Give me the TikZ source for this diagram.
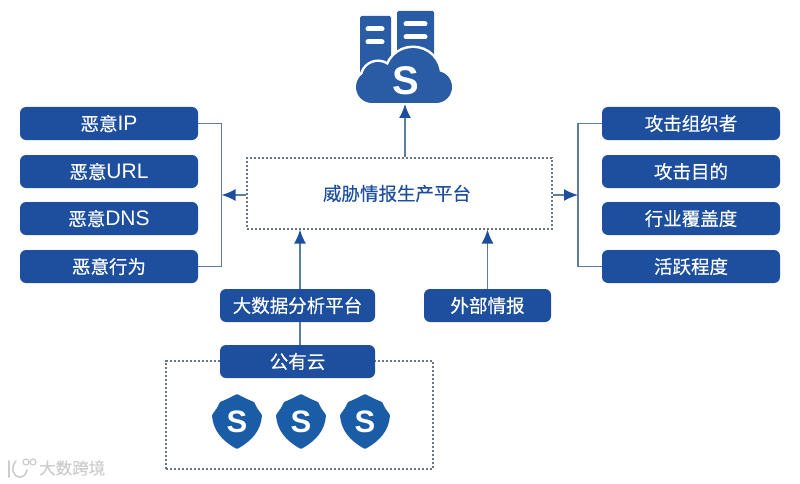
\documentclass[tikz,border=0pt]{standalone}
\usepackage{fontspec}
\setmainfont[FakeBold=0.3]{Noto Sans CJK SC}
\newfontfamily\latinbold{Liberation Sans Bold}
\newfontfamily\latinfont{Liberation Sans}
\newcommand{\lat}[1]{{\latinfont\fontsize{21}{21}\selectfont #1}}
\usetikzlibrary{arrows.meta}
\definecolor{boxblue}{HTML}{1D4F9E}
\definecolor{iconblue}{HTML}{2A5CA6}
\definecolor{shieldblue}{HTML}{1B5CA6}
\definecolor{linegray}{HTML}{5E7C9C}
\definecolor{dashgray}{HTML}{66768A}
\tikzset{
  itembox/.style={fill=boxblue,rounded corners=6pt,minimum height=33pt,inner sep=0pt,text=white,font=\fontsize{18.5}{20}\selectfont},
  dashbox/.style={draw=dashgray,line width=1.1pt,dash pattern=on 2.2pt off 1.8pt},
  link/.style={draw=linegray,line width=1.7pt},
  arrowlink/.style={link,-{Latex[length=14pt,width=12pt,color=boxblue]}},
  sletter/.style={text=white,inner sep=0pt,font=\latinbold}
}
\begin{document}
\begin{tikzpicture}[x=1pt,y=-1pt]
  \useasboundingbox (0,0) rectangle (800,484);
  % dashed frames
  \node[dashbox,minimum width=305pt,minimum height=71pt,inner sep=0pt,font=\fontsize{18.5}{20}\selectfont,text=boxblue] (platform) at (399.5,193.5) {\hspace*{-5pt}威胁情报生产平台};
  \node[dashbox,minimum width=267pt,minimum height=108pt,inner sep=0pt] (cloudframe) at (299.5,415) {};
  % side lists
  \foreach \n/\y/\l in {ip/123.5/恶意\lat{IP},url/171.5/恶意\lat{URL},dns/218.5/恶意\lat{DNS},act/266.5/恶意行为} \node[itembox,minimum width=178pt] (\n) at (109,\y) {\l};
  \foreach \n/\y/\l in {org/123.5/攻击组织者,goal/171.5/攻击目的,ind/218.5/行业覆盖度,live/266.5/活跃程度} \node[itembox,minimum width=178pt] (\n) at (691,\y) {\l};
  % lower boxes
  \node[itembox,minimum width=155pt] (bigdata) at (297.5,305.5) {大数据分析平台};
  \node[itembox,minimum width=155pt] (pubcloud) at (297.5,361.5) {公有云};
  \node[itembox,minimum width=127pt] (extern) at (487.5,305.5) {外部情报};
  % server and cloud icon
  \fill[iconblue,rounded corners=1.5pt] (360,16) rectangle (391,76);
  \fill[iconblue,rounded corners=1.5pt] (397,11) rectangle (434,70);
  \foreach \x/\y/\w in {366/29/18,366/42/18,404/24/23,404/37/23} \draw[white,line width=5pt,line cap=round] (\x+2,\y)--(\x+\w-2,\y);
  \foreach \x/\y/\r in {372/87/16,378/78/16,413/75/27,436/87/16} \draw[white,line width=5pt] (\x,\y) circle (\r);
  \draw[white,line width=5pt] (372,103)--(436,103);
  \foreach \x/\y/\r in {372/87/16,378/78/16,413/75/27,436/87/16} \fill[iconblue] (\x,\y) circle (\r);
  \fill[iconblue] (372,80) rectangle (436,103);
  \node[sletter,font=\latinbold\fontsize{40}{40}\selectfont] (cloudicon) at (405.5,81) {S};
  \coordinate (cloudbase) at (405,104);
  % shields
  \foreach \n/\x in {sa/237,sb/301,sc/365} {
    \fill[shieldblue,rounded corners=0.8pt] (\x,394)--(\x+11,399.5)--(\x+17,402)--(\x+20,408)--(\x+25,415) .. controls (\x+24,430) and (\x+15,441) .. (\x,449) .. controls (\x-15,441) and (\x-24,430) .. (\x-25,415)--(\x-20,408)--(\x-17,402)--(\x-11,399.5)--cycle;
    \node[sletter,font=\latinbold\fontsize{31}{31}\selectfont] (\n) at (\x,422) {S};
  }
  % connectors
  \coordinate (leftbus) at (221.5,195);
  \coordinate (rightbus) at (578,195);
  \draw[link] (ip.east) -| (leftbus) |- (act.east);
  \draw[link] (org.west) -| (rightbus) |- (live.west);
  \draw[arrowlink] (platform.west |- leftbus) -- (leftbus);
  \draw[arrowlink] (platform.east |- rightbus) -- (rightbus);
  \draw[arrowlink] (platform.north -| cloudbase) -- (cloudbase);
  \draw[arrowlink] (bigdata.north -| 300,0) -- (platform.south -| 300,0);
  \draw[arrowlink] (extern.north) -- (platform.south -| extern.north);
  \draw[link] (bigdata.south -| 300,0) -- (pubcloud.north -| 300,0);
  % watermark
  \node[text=black!20,inner sep=0pt,anchor=west,font=\fontsize{16.5}{17}\selectfont] (mark) at (39,468) {大数跨境};
  \draw[black!20,line width=1.6pt,line cap=round] (9,461)--(9,477) (16,461) .. controls (10,468) and (13,477) .. (20,477) .. controls (24,477) and (26,474) .. (27,470);
  \foreach \x in {26,33} \draw[black!20,line width=1.2pt] (\x,462) circle (3);
\end{tikzpicture}
\end{document}
